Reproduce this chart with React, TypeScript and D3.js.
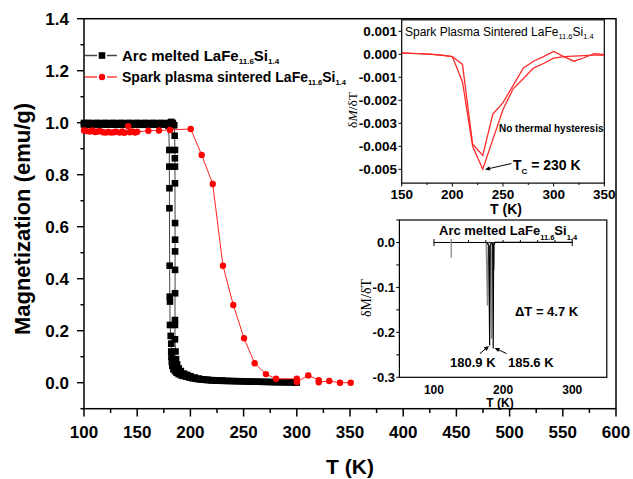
import React from 'react';
import * as d3 from 'd3';

// ---------- data ----------
const mainXTicks = [100, 150, 200, 250, 300, 350, 400, 450, 500, 550, 600];
const mainYTicks = [0.0, 0.2, 0.4, 0.6, 0.8, 1.0, 1.2, 1.4];

// Arc melted, branch with drop near 180.9 K
const arcCool: [number, number][] = [
  [100, 0.993], [102.5, 0.994], [105, 0.993], [107.5, 0.992], [110, 0.993], [112.5, 0.994], [115, 0.993],
  [117.5, 0.993], [120, 0.992], [122.5, 0.993], [125, 0.994], [127.5, 0.993], [130, 0.992], [132.5, 0.993],
  [135, 0.993], [137.5, 0.994], [140, 0.993], [142.5, 0.992], [145, 0.993], [147.5, 0.993], [150, 0.994],
  [152.5, 0.993], [155, 0.992], [157.5, 0.993], [160, 0.993], [162.5, 0.994], [165, 0.993], [167.5, 0.992],
  [170, 0.993], [172.5, 0.994], [175, 0.993], [177.5, 0.992], [179.5, 0.988], [180.2, 0.895], [180.2, 0.831],
  [180.3, 0.748], [180.3, 0.671], [180.5, 0.45], [180.6, 0.331], [180.8, 0.312], [180.8, 0.222], [181.5, 0.18],
  [182, 0.15], [182, 0.12], [182.2, 0.1], [182.5, 0.08], [183, 0.065], [184, 0.052], [185.5, 0.045], [187, 0.038],
  [189, 0.033], [191, 0.029], [193, 0.026], [196, 0.023], [199, 0.02], [202, 0.017], [205, 0.015], [208, 0.013],
  [211, 0.012], [214, 0.011], [217, 0.01], [220, 0.009], [223, 0.0085], [226, 0.008], [229, 0.0075], [232, 0.007],
  [235, 0.0068], [238, 0.0065], [241, 0.006], [244, 0.0058], [247, 0.0055], [250, 0.005], [253, 0.0048],
  [256, 0.0045], [259, 0.0042], [262, 0.004], [265, 0.0037], [268, 0.0034], [271, 0.0031], [274, 0.0028],
  [277, 0.0025], [280, 0.0022], [283, 0.002], [286, 0.0018], [289, 0.0016], [292, 0.0014], [295, 0.0012],
  [298, 0.0011], [300, 0.001],
];

// Arc melted, branch with drop near 185.6 K
const arcHeat: [number, number][] = [
  [100, 0.999], [102.5, 0.998], [105, 0.999], [107.5, 0.998], [110, 0.998], [112.5, 0.999], [115, 0.998],
  [117.5, 0.998], [120, 0.999], [122.5, 0.998], [125, 0.998], [127.5, 0.999], [130, 0.998], [132.5, 0.998],
  [135, 0.999], [137.5, 0.998], [140, 0.998], [142.5, 0.999], [145, 0.998], [147.5, 0.998], [150, 0.999],
  [152.5, 0.998], [155, 0.998], [157.5, 0.999], [160, 0.998], [162.5, 0.998], [165, 0.999], [167.5, 0.998],
  [170, 0.998], [172.5, 0.999], [175, 0.998], [177.5, 0.998], [180, 0.999], [182, 1.003], [183.5, 0.999],
  [184.8, 0.99], [185.2, 0.95], [185.5, 0.895], [185.4, 0.863], [185.5, 0.831], [185.5, 0.767], [185.6, 0.614],
  [185.6, 0.55], [185.6, 0.505], [185.6, 0.434], [185.6, 0.344], [185.5, 0.241], [185.5, 0.222], [185.5, 0.167],
  [186, 0.12], [186.5, 0.09], [187.5, 0.07], [189, 0.055], [191, 0.045], [194, 0.035], [197, 0.03], [200, 0.025],
  [204, 0.02], [208, 0.016], [212, 0.013], [216, 0.011], [220, 0.01], [225, 0.009], [230, 0.008],
];

// Spark plasma sintered
const sps: [number, number][] = [
  [100, 0.970], [102, 0.968], [105.5, 0.966], [108, 0.970], [110.5, 0.964], [113, 0.966], [115, 0.968],
  [118, 0.963], [120.5, 0.962], [123, 0.964], [125.5, 0.962], [128, 0.963], [130, 0.965], [133.5, 0.962],
  [136, 0.966], [138, 0.961], [141.5, 0.987], [143, 0.963], [145.5, 0.966], [148, 0.962], [150, 0.965],
  [160.5, 0.969], [170.5, 0.970], [180.8, 0.972], [200.3, 0.976], [210.6, 0.876], [221, 0.764], [230.6, 0.45],
  [240.3, 0.299], [250.4, 0.171], [260.4, 0.075], [271, 0.033], [280.5, 0.015], [300, 0.015], [300, 0.003],
  [310.8, 0.028], [320.6, 0.010], [320.6, 0.002], [330.5, 0.0065], [340.6, 0.0], [350.7, 0.0],
];

// Inset 1: dM/dT of spark plasma sintered sample
const in1XTicks = [150, 200, 250, 300, 350];
const in1YTicks = [0.001, 0.0, -0.001, -0.002, -0.003, -0.004, -0.005];
const in1YLabels = ['0.001', '0.000', '-0.001', '-0.002', '-0.003', '-0.004', '-0.005'];
const dmdtA: [number, number][] = [
  [150, 0.00005], [160, 0.00004], [170, 0.00002], [180, 0.0], [190, -0.00004], [200, -0.0001], [210, -0.00044],
  [220, -0.0039], [230, -0.0044], [240, -0.0026], [250, -0.0021], [260, -0.00135], [270, -0.0006], [280, -0.0003],
  [290, -0.0001], [300, 0.00012], [310, -0.0001], [320, -0.0003], [330, -0.00015], [340, 0.00003], [350, -0.00002],
];
const dmdtB: [number, number][] = [
  [150, 0.00006], [160, 0.00004], [170, 0.00003], [180, 0.0], [190, -0.00005], [200, -0.0001], [210, -0.0012],
  [220, -0.0040], [230, -0.0050], [240, -0.0037], [250, -0.0024], [260, -0.0015], [270, -0.00106], [280, -0.0006],
  [290, -0.0004], [300, -0.00017], [310, -0.0001], [320, -0.00008], [330, -0.00006], [340, -0.00004], [350, -0.00003],
];

// Inset 2: dM/dT of arc melted sample
const in2XTicks = [100, 200, 300];
const in2YTicks = [0.0, -0.1, -0.2, -0.3];
const in2YLabels = ['0.0', '-0.1', '-0.2', '-0.3'];
const in2MinorY = [0.05, 0.0, -0.05, -0.1, -0.15, -0.2, -0.25, -0.3];
const innerTicks = [100, 125, 150, 175, 200, 225, 250, 275, 300];
const spikeBlack1: [number, number][] = [[176, 0], [179.2, -0.006], [180.6, -0.229], [181.2, -0.008], [182.5, -0.002], [184, 0]];
const spikeBlack2: [number, number][] = [[183.5, 0], [185, -0.004], [185.7, -0.236], [186.3, -0.006], [188, 0], [300, 0]];
const spikeGray1: [number, number][] = [[175.5, 0], [177.4, -0.14], [178.3, -0.004], [179, 0]];
const spikeGray2: [number, number][] = [[182, 0], [183.4, -0.214], [184.2, -0.004], [185, 0]];
const spikeGray3: [number, number][] = [[185.8, 0], [186.9, -0.062], [187.6, -0.003], [188.5, 0]];

// ---------- scales ----------
const x = d3.scaleLinear().domain([100, 600]).range([84, 616]);
const y = d3.scaleLinear().domain([-0.1, 1.4]).range([408.7, 18.7]);
const ix1 = d3.scaleLinear().domain([150, 350]).range([401.7, 604.3]);
const iy1 = d3.scaleLinear().domain([-0.0056, 0.0015]).range([183.1, 19.8]);
const ix2 = d3.scaleLinear().domain([50, 350]).range([399.4, 606.8]);
const iy2 = d3.scaleLinear().domain([-0.3, 0.05]).range([377.3, 220]);

const SANS = '"Liberation Sans", Arial, sans-serif';
const SERIF = '"Liberation Serif", "Times New Roman", serif';

const lineMain = d3.line<[number, number]>().x(d => x(d[0])).y(d => y(d[1]));
const line1 = d3.line<[number, number]>().x(d => ix1(d[0])).y(d => iy1(d[1]));
const line2 = d3.line<[number, number]>().x(d => ix2(d[0])).y(d => iy2(d[1]));

function Arrow({ x1, y1, x2, y2 }: { x1: number; y1: number; x2: number; y2: number }) {
  const ang = Math.atan2(y2 - y1, x2 - x1);
  const L = 5, w = 2.2;
  const bx = x2 - L * Math.cos(ang), by = y2 - L * Math.sin(ang);
  const px = -Math.sin(ang) * w, py = Math.cos(ang) * w;
  return (
    <g>
      <line x1={x1} y1={y1} x2={bx} y2={by} stroke="#000" strokeWidth={1} />
      <path d={`M${x2},${y2}L${bx + px},${by + py}L${bx - px},${by - py}Z`} fill="#000" />
    </g>
  );
}

export default function App() {
  const minorX = d3.range(100, 601, 25);
  const minorY = d3.range(-0.1, 1.41, 0.1);
  const in1Minor = d3.range(150, 351, 25);
  return (
    <svg width={633} height={479} style={{ position: 'absolute', left: 0, top: 0, background: '#fff' }}
      fontFamily={SANS}>
      <defs>
        <clipPath id="c1"><rect x={401.7} y={19.8} width={202.6} height={163.3} /></clipPath>
        <clipPath id="c2"><rect x={399.4} y={220} width={207.4} height={157.3} /></clipPath>
      </defs>
      <rect x={0} y={0} width={633} height={479} fill="#fff" />

      {/* main frame */}
      <rect x={84} y={18.7} width={532} height={390} fill="none" stroke="#000" strokeWidth={1.5} />
      {minorX.map(t => (
        <line key={'mx' + t} x1={x(t)} x2={x(t)} y1={408.7} y2={t % 50 === 0 ? 416.5 : 413} stroke="#000" strokeWidth={1.5} />
      ))}
      {minorY.map(v => (
        <line key={'my' + v} y1={y(v)} y2={y(v)} x1={84} x2={Math.abs(Math.round(v * 10) % 2) === 0 ? 77 : 80.5} stroke="#000" strokeWidth={1.5} />
      ))}
      {mainXTicks.map(t => (
        <text key={'xt' + t} x={x(t)} y={438} textAnchor="middle" fontSize={17} fontWeight="bold">{t}</text>
      ))}
      {mainYTicks.map(v => (
        <text key={'yt' + v} x={69} y={y(v) + 6} textAnchor="end" fontSize={17} fontWeight="bold">{v.toFixed(1)}</text>
      ))}
      <text x={350} y={474} textAnchor="middle" fontSize={21} fontWeight="bold">T (K)</text>
      <text transform="translate(30,219) rotate(-90)" textAnchor="middle" fontSize={22} fontWeight="bold">Magnetization (emu/g)</text>

      {/* main data */}
      <path d={lineMain(arcHeat) || ''} fill="none" stroke="#444" strokeWidth={1} />
      <path d={lineMain(arcCool) || ''} fill="none" stroke="#444" strokeWidth={1} />
      {arcHeat.map((d, i) => (
        <rect key={'ah' + i} x={x(d[0]) - 3.3} y={y(d[1]) - 3.3} width={6.6} height={6.6} fill="#000" />
      ))}
      {arcCool.map((d, i) => (
        <rect key={'ac' + i} x={x(d[0]) - 3.3} y={y(d[1]) - 3.3} width={6.6} height={6.6} fill="#000" />
      ))}
      <path d={lineMain(sps) || ''} fill="none" stroke="#ff2020" strokeWidth={1} />
      {sps.map((d, i) => (
        <circle key={'sp' + i} cx={x(d[0])} cy={y(d[1])} r={3.2} fill="#ff0000" />
      ))}

      {/* legend */}
      <line x1={85} x2={97} y1={55.5} y2={55.5} stroke="#444" strokeWidth={1.5} />
      <line x1={107} x2={117} y1={55.5} y2={55.5} stroke="#444" strokeWidth={1.5} />
      <rect x={98.7} y={52.2} width={6.6} height={6.6} fill="#000" />
      <line x1={85} x2={97} y1={77} y2={77} stroke="#ff4040" strokeWidth={1.5} />
      <line x1={107} x2={117} y1={77} y2={77} stroke="#ff4040" strokeWidth={1.5} />
      <circle cx={102} cy={77} r={3.2} fill="#ff0000" />
      <text x={122} y={61} fontSize={15} fontWeight="bold">
        Arc melted LaFe<tspan fontSize={8} dy={3}>11.6</tspan><tspan dy={-3}>Si</tspan><tspan fontSize={8} dy={3}>1.4</tspan>
      </text>
      <text x={122} y={82} fontSize={14} fontWeight="bold">
        Spark plasma sintered LaFe<tspan fontSize={7.5} dy={3}>11.6</tspan><tspan dy={-3}>Si</tspan><tspan fontSize={7.5} dy={3}>1.4</tspan>
      </text>

      {/* ---------- inset 1 ---------- */}
      <rect x={401.7} y={19.8} width={202.6} height={163.3} fill="#fff" stroke="#000" strokeWidth={1.2} />
      {in1YTicks.map(v => (
        <line key={'i1y' + v} x1={401.7} x2={398.5} y1={iy1(v)} y2={iy1(v)} stroke="#000" strokeWidth={1} />
      ))}
      {in1Minor.map(t => (
        <line key={'i1x' + t} x1={ix1(t)} x2={ix1(t)} y1={183.1} y2={t % 50 === 0 ? 186.5 : 185} stroke="#000" strokeWidth={1} />
      ))}
      {in1YTicks.map((v, i) => (
        <text key={'i1yl' + v} x={397} y={iy1(v) + 4.5} textAnchor="end" fontSize={13.5} fontWeight="bold">{in1YLabels[i]}</text>
      ))}
      {in1XTicks.map(t => (
        <text key={'i1xl' + t} x={ix1(t)} y={198.5} textAnchor="middle" fontSize={13.5} fontWeight="bold">{t}</text>
      ))}
      <text x={506} y={214} textAnchor="middle" fontSize={14} fontWeight="bold">T (K)</text>
      <text transform="translate(357,110) rotate(-90)" textAnchor="middle" fontSize={13.5} fontFamily={SERIF}>
        δ<tspan fontStyle="italic">M</tspan>/δT
      </text>
      <g clipPath="url(#c1)">
        <path d={line1(dmdtA) || ''} fill="none" stroke="#ff2a2a" strokeWidth={1.3} />
        <path d={line1(dmdtB) || ''} fill="none" stroke="#ff2a2a" strokeWidth={1.3} />
      </g>
      <text x={405} y={36} fontSize={12}>
        Spark Plasma Sintered LaFe<tspan fontSize={7.5} dy={3}>11.6</tspan><tspan dy={-3}>Si</tspan><tspan fontSize={7.5} dy={3}>1.4</tspan>
      </text>
      <text x={499} y={132} fontSize={10} fontWeight="bold">No thermal hysteresis</text>
      <text x={513} y={169.5} fontSize={14} fontWeight="bold">
        T<tspan fontSize={8} dy={4}>C</tspan><tspan dy={-4}> = 230 K</tspan>
      </text>
      <Arrow x1={511.5} y1={163.5} x2={485} y2={169.5} />

      {/* ---------- inset 2 ---------- */}
      <rect x={399.4} y={220} width={207.4} height={157.3} fill="#fff" stroke="#000" strokeWidth={1.2} />
      {in2MinorY.map(v => (
        <line key={'i2m' + v} x1={399.4} x2={396.2} y1={iy2(v)} y2={iy2(v)} stroke="#000" strokeWidth={1} />
      ))}
      {in2YTicks.map((v, i) => (
        <text key={'i2yl' + v} x={395} y={iy2(v) + 4.5} textAnchor="end" fontSize={13} fontWeight="bold">{in2YLabels[i]}</text>
      ))}
      {in2XTicks.map(t => (
        <text key={'i2xl' + t} x={ix2(t)} y={393.5} textAnchor="middle" fontSize={12} fontWeight="bold">{t}</text>
      ))}
      <text x={500} y={406.5} textAnchor="middle" fontSize={12} fontWeight="bold">T (K)</text>
      <text transform="translate(371,298) rotate(-90)" textAnchor="middle" fontSize={14} fontFamily={SERIF}>δM/δT</text>
      <g clipPath="url(#c2)">
        <line x1={ix2(100)} x2={ix2(300)} y1={iy2(0)} y2={iy2(0)} stroke="#000" strokeWidth={1} />
        {innerTicks.map((t, i) => {
          const xx = ix2(t);
          if (i === 0 || i === innerTicks.length - 1)
            return <line key={'it' + t} x1={xx} x2={xx} y1={iy2(0) - 3.5} y2={iy2(0) + 3.5} stroke="#000" strokeWidth={1} />;
          if (t === 125)
            return <line key={'it' + t} x1={xx} x2={xx} y1={iy2(0) - 3.5} y2={iy2(-0.034)} stroke="#888" strokeWidth={1.3} />;
          return <line key={'it' + t} x1={xx} x2={xx} y1={iy2(0) - 2.5} y2={iy2(0)} stroke="#000" strokeWidth={1} />;
        })}
        <path d={line2(spikeGray1) || ''} fill="none" stroke="#8a8a8a" strokeWidth={1.3} />
        <path d={line2(spikeGray2) || ''} fill="none" stroke="#8a8a8a" strokeWidth={1.3} />
        <path d={line2(spikeGray3) || ''} fill="none" stroke="#8a8a8a" strokeWidth={1.3} />
        <path d={line2(spikeBlack1) || ''} fill="none" stroke="#000" strokeWidth={1.2} />
        <path d={line2(spikeBlack2) || ''} fill="none" stroke="#000" strokeWidth={1.2} />
      </g>
      <text x={439} y={235} fontSize={13} fontWeight="bold">
        Arc melted LaFe<tspan fontSize={7.5} dy={5}>11.6</tspan><tspan dy={-5}>Si</tspan><tspan fontSize={7.5} dy={5}>1.4</tspan>
      </text>
      <text x={515} y={316} fontSize={13} fontWeight="bold">ΔT = 4.7 K</text>
      <text x={450} y={367} fontSize={13} fontWeight="bold">180.9 K</text>
      <text x={508} y={367} fontSize={13} fontWeight="bold">185.6 K</text>
      <Arrow x1={480} y1={353.5} x2={489} y2={346} />
      <Arrow x1={506.5} y1={353.5} x2={494.5} y2={348} />
    </svg>
  );
}
